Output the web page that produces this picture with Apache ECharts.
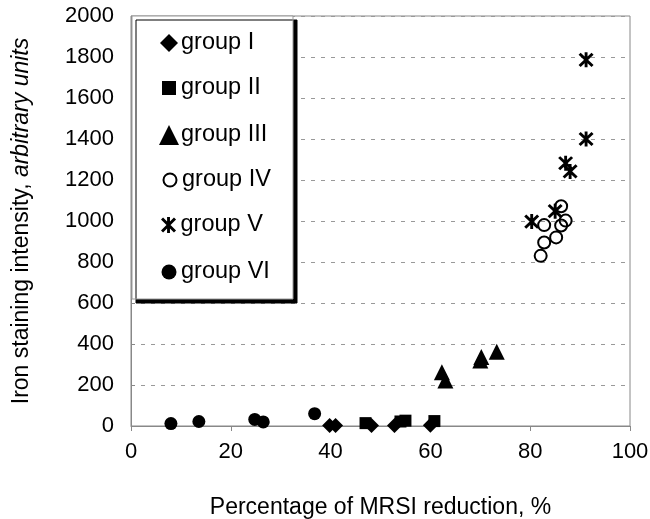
<!DOCTYPE html>
<html>
<head>
<meta charset="utf-8">
<title>Iron staining vs MRSI reduction</title>
<script src="https://cdn.jsdelivr.net/npm/echarts@6.0.0/dist/echarts.min.js"></script>
<style>
    html, body { margin: 0; padding: 0; background: #fff; }
    #chart { width: 650px; height: 519px; }
</style>
</head>
<body>
<div id="chart"></div>
<script>
// [percentage of MRSI reduction, iron staining intensity]
const groupI = [[39.8, 3], [41.0, 3], [48.2, 2], [52.8, 2], [60.0, 4]];
const groupII = [[47.0, 14], [54.0, 22], [55.0, 26], [60.8, 24]];
const groupIII = [[62.3, 262], [63.0, 222], [70.0, 320], [70.2, 336], [73.3, 362]];
const groupIV = [[82.1, 830], [82.8, 895], [82.8, 980], [85.2, 920], [86.2, 978], [86.2, 1072], [87.1, 1002]];
const groupV = [[80.3, 997], [85.0, 1048], [87.1, 1282], [88.0, 1242], [91.2, 1400], [91.2, 1786]];
const groupVI = [[8.0, 12], [13.6, 22], [24.8, 32], [26.5, 20], [36.8, 60]];

const groupNames = ["group I", "group II", "group III", "group IV", "group V", "group VI"];
const xTicks = { min: 0, max: 100, step: 20 };
const yTicks = { min: 0, max: 2000, step: 200 };

// six-armed star drawn as filled bars
const asterisk = "path://M4.1,0H5.9V10H4.1Z" +
    "M0.3,1.6L1.6,0.3L9.7,8.4L8.4,9.7Z" +
    "M8.4,0.3L9.7,1.6L1.6,9.7L0.3,8.4Z";

let myChart = echarts.init(document.getElementById("chart"));

const font = "'Liberation Sans', Arial, sans-serif";

function scatter(name, data, symbol, size, style) {
    return {
        name: name,
        type: "scatter",
        data: data,
        symbol: symbol,
        symbolSize: size,
        itemStyle: style || { color: "#000", opacity: 1 },
        emphasis: { disabled: true }
    };
}

// one legend per group so each key symbol can have its own size
const legendIconSizes = [18, 14, 20, 13, 16, 15];
const legendRowY = [43, 88, 135, 180, 225, 272];

function legendRow(i) {
    const w = legendIconSizes[i];
    return {
        orient: "vertical",
        left: 169 - w / 2,
        top: legendRowY[i] - 12.5,
        itemWidth: w,
        itemHeight: w,
        selectedMode: false,
        padding: 0,
        textStyle: {
            color: "#000", fontSize: 23.5, lineHeight: 25, fontFamily: font,
            padding: [0, 0, 0, 7 - w / 2]
        },
        data: [groupNames[i]]
    };
}

let option = {
    animation: false,
    backgroundColor: "#fff",
    textStyle: { fontFamily: font },
    grid: {
        left: 131,
        right: 20,
        top: 16,
        bottom: 93,
        outerBoundsMode: "none",
        show: true,
        borderColor: "#888",
        borderWidth: 1,
        backgroundColor: "transparent"
    },
    xAxis: {
        type: "value",
        min: xTicks.min,
        max: xTicks.max,
        interval: xTicks.step,
        name: "Percentage of MRSI reduction, %",
        nameLocation: "middle",
        nameGap: 70,
        nameTextStyle: { color: "#000", fontSize: 23, fontFamily: font },
        axisLine: { lineStyle: { color: "#888" } },
        axisTick: { show: true, length: 5, lineStyle: { color: "#888" } },
        axisLabel: { color: "#000", fontSize: 22, margin: 15, fontFamily: font },
        splitLine: { show: false }
    },
    yAxis: {
        type: "value",
        min: yTicks.min,
        max: yTicks.max,
        interval: yTicks.step,
        name: "{a|Iron staining intensity, }{b|arbitrary units}",
        nameLocation: "middle",
        nameGap: 98,
        nameTextStyle: {
            rich: {
                a: { color: "#000", fontSize: 23, fontFamily: font },
                b: { color: "#000", fontSize: 23, fontFamily: font, fontStyle: "italic" }
            }
        },
        axisLine: { show: true, lineStyle: { color: "#888" } },
        axisTick: { show: true, inside: true, length: 4, lineStyle: { color: "#888" } },
        axisLabel: {
            color: "#000", fontSize: 22, margin: 17, fontFamily: font,
            formatter: function (v) { return String(v); }
        },
        splitLine: { show: true, lineStyle: { color: "#999", type: [4, 6], width: 1 } }
    },
    legend: groupNames.map(function (n, i) { return legendRow(i); }),
    graphic: [{
        type: "rect",
        z: 3,
        shape: { x: 132, y: 16, width: 161, height: 283 },
        style: {
            fill: "#fff",
            stroke: "#999",
            lineWidth: 1,
            shadowColor: "#000",
            shadowOffsetX: 4,
            shadowOffsetY: 4,
            shadowBlur: 0
        }
    }],
    series: [
        scatter(groupNames[0], groupI, "diamond", 15),
        scatter(groupNames[1], groupII, "rect", 12),
        scatter(groupNames[2], groupIII, "triangle", 16),
        scatter(groupNames[3], groupIV, "circle", 12, { color: "rgba(0,0,0,0)", borderColor: "#000", borderWidth: 2, opacity: 1 }),
        scatter(groupNames[4], groupV, asterisk, 15),
        scatter(groupNames[5], groupVI, "circle", 13)
    ]
};

myChart.setOption(option);
</script>
</body>
</html>
